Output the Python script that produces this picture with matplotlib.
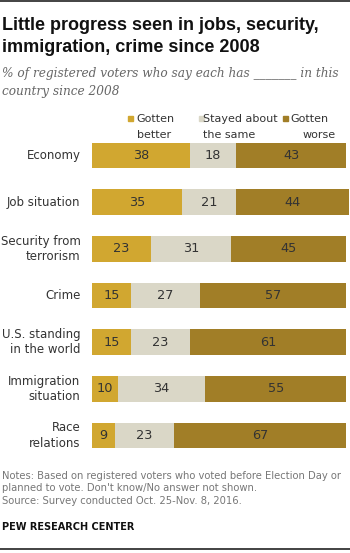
import numpy as np
import matplotlib.pyplot as plt

# Data
categories = ["Economy", "Job situation", "Security from\nterrorism", "Crime",
              "U.S. standing\nin the world", "Immigration\nsituation", "Race\nrelations"]
better = [38, 35, 23, 15, 15, 10, 9]
same = [18, 21, 31, 27, 23, 34, 23]
worse = [43, 44, 45, 57, 61, 55, 67]
legend_labels = ["Gotten\nbetter", "Stayed about\nthe same", "Gotten\nworse"]
colors = ["#D1A730", "#DAD7C7", "#A17E27"]

W, H = 350, 553
fig = plt.figure(figsize=(W / 100, H / 100), dpi=100)

def fx(px):
    return px / W

def fy(py):
    return 1 - py / H

# bar axes
top_px, bot_px = 132.2, 458.8
ax = fig.add_axes([fx(92), fy(bot_px), fx(349) - fx(92), (bot_px - top_px) / H])
y = np.arange(len(categories))
left = np.zeros(len(categories))
for vals, c in zip([better, same, worse], colors):
    vals = np.array(vals)
    ax.barh(y, vals, left=left, height=0.55, color=c, edgecolor="none")
    for yi, l, v in zip(y, left, vals):
        ax.text(l + v / 2, yi, str(v), ha="center", va="center", fontsize=9.3, color="#333333")
    left = left + vals
ax.set_xlim(0, 100)
ax.set_ylim(len(categories) - 0.5, -0.5)
ax.axis("off")

for yi, cat in zip(y, categories):
    ax.text(-4.5, yi, cat, ha="right", va="center", fontsize=8.5, color="#333333",
            linespacing=1.25)

# legend
sq_x = [128, 199, 283]
for sx, c in zip(sq_x, colors):
    fig.add_artist(plt.Rectangle((fx(sx), fy(121)), 5 / W, 5 / H, color=c,
                                 transform=fig.transFigure))
lf = 8
fig.text(fx(136), fy(119), "Gotten", fontsize=lf, color="#333333", va="center")
fig.text(fx(137), fy(135), "better", fontsize=lf, color="#333333", va="center")
fig.text(fx(203), fy(119), "Stayed about", fontsize=lf, color="#333333", va="center")
fig.text(fx(203), fy(135), "the same", fontsize=lf, color="#333333", va="center")
fig.text(fx(290), fy(119), "Gotten", fontsize=lf, color="#333333", va="center")
fig.text(fx(336), fy(135), "worse", fontsize=lf, color="#333333", va="center", ha="right")

# title and subtitle
title_font = ["Liberation Sans Narrow", "Liberation Sans"]
fig.text(fx(2), fy(25), "Little progress seen in jobs, security,",
         fontsize=13, fontweight="bold", color="#111111", va="center", family=title_font)
fig.text(fx(2), fy(48), "immigration, crime since 2008",
         fontsize=13, fontweight="bold", color="#111111", va="center", family=title_font)
fig.text(fx(2), fy(74), "% of registered voters who say each has _______ in this",
         fontsize=8.7, style="italic", family="serif", color="#666666", va="center")
fig.text(fx(2), fy(92), "country since 2008",
         fontsize=8.7, style="italic", family="serif", color="#666666", va="center")

# notes
fig.text(fx(2), fy(471), "Notes: Based on registered voters who voted before Election Day or\n"
         "planned to vote. Don't know/No answer not shown.\n"
         "Source: Survey conducted Oct. 25-Nov. 8, 2016.",
         fontsize=7.2, color="#777777", va="top", linespacing=1.3)
fig.text(fx(2), fy(522), "PEW RESEARCH CENTER", fontsize=7, fontweight="bold",
         color="#111111", va="top")

# top and bottom rules
fig.add_artist(plt.Line2D([0, 1], [fy(1), fy(1)], color="#222222", lw=1.2))
fig.add_artist(plt.Line2D([0, 1], [fy(549), fy(549)], color="#222222", lw=1.2))

fig.savefig("out.png", dpi=100)
